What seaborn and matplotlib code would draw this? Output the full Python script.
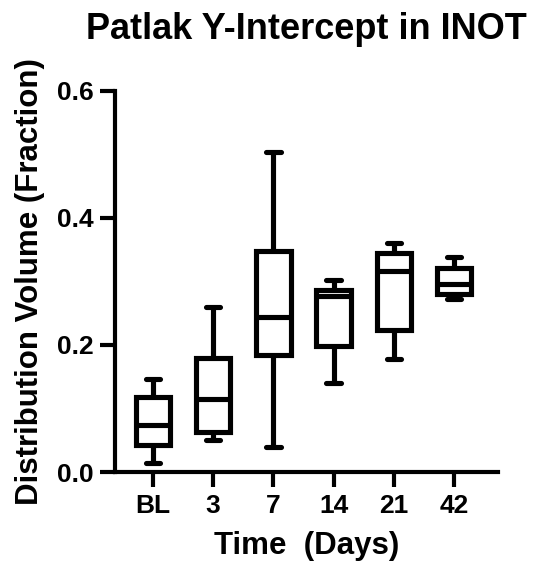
import numpy as np
import pandas as pd
import matplotlib
matplotlib.use("Agg")
import matplotlib.pyplot as plt
from matplotlib.ticker import FormatStrFormatter
import seaborn as sns

# Five-number summaries (min, Q1, median, Q3, max)
categories = ["BL", "3", "7", "14", "21", "42"]
bl = [0.0147, 0.0425, 0.0735, 0.1175, 0.146]
d3 = [0.050, 0.063, 0.1154, 0.179, 0.259]
d7 = [0.039, 0.184, 0.2445, 0.348, 0.504]
d14 = [0.1395, 0.199, 0.277, 0.286, 0.302]
d21 = [0.1773, 0.2235, 0.316, 0.344, 0.360]
d42 = [0.272, 0.2796, 0.2964, 0.3205, 0.339]
yticks = [0.0, 0.2, 0.4, 0.6]

groups = [bl, d3, d7, d14, d21, d42]
df = pd.DataFrame({
    "Time": [c for c, g in zip(categories, groups) for _ in g],
    "Value": [v for g in groups for v in g],
})

sns.set_style("ticks")
plt.rcParams["font.family"] = ["Liberation Sans", "DejaVu Sans"]
plt.rcParams["font.weight"] = "bold"
plt.rcParams["text.color"] = "black"
plt.rcParams["axes.labelcolor"] = "black"

fig = plt.figure(figsize=(5.35, 5.71), dpi=100)
ax = fig.add_axes([115 / 535, 1 - 472 / 571, (498 - 115) / 535, (472 - 90.7) / 571])

sns.boxplot(data=df, x="Time", y="Value", order=categories, whis=(0, 100),
            width=0.57, color="white", linecolor="black", linewidth=3.7,
            fill=True, showfliers=False, capwidths=0.24, ax=ax)

ax.set_ylim(0, 0.6)
ax.set_xlim(-0.63, 5.73)
ax.set_yticks(yticks)
ax.yaxis.set_major_formatter(FormatStrFormatter("%.1f"))

for s in ["top", "right"]:
    ax.spines[s].set_visible(False)
for s in ["left", "bottom"]:
    ax.spines[s].set_linewidth(3)
    ax.spines[s].set_color("black")

ax.tick_params(axis="both", length=11, width=3, color="black",
               labelsize=19, labelcolor="black")
ax.tick_params(axis="y", pad=4.5)
ax.tick_params(axis="x", pad=5)
for lab in ax.get_xticklabels() + ax.get_yticklabels():
    lab.set_fontweight("bold")

ax.set_title("Patlak Y-Intercept in INOT", fontsize=26, fontweight="bold", pad=37)
ax.set_xlabel("Time  (Days)", fontsize=22.5, fontweight="bold", labelpad=9)
ax.set_ylabel("Distribution Volume (Fraction)", fontsize=22.5, fontweight="bold", labelpad=8.5)

fig.savefig("out.png", dpi=100)
